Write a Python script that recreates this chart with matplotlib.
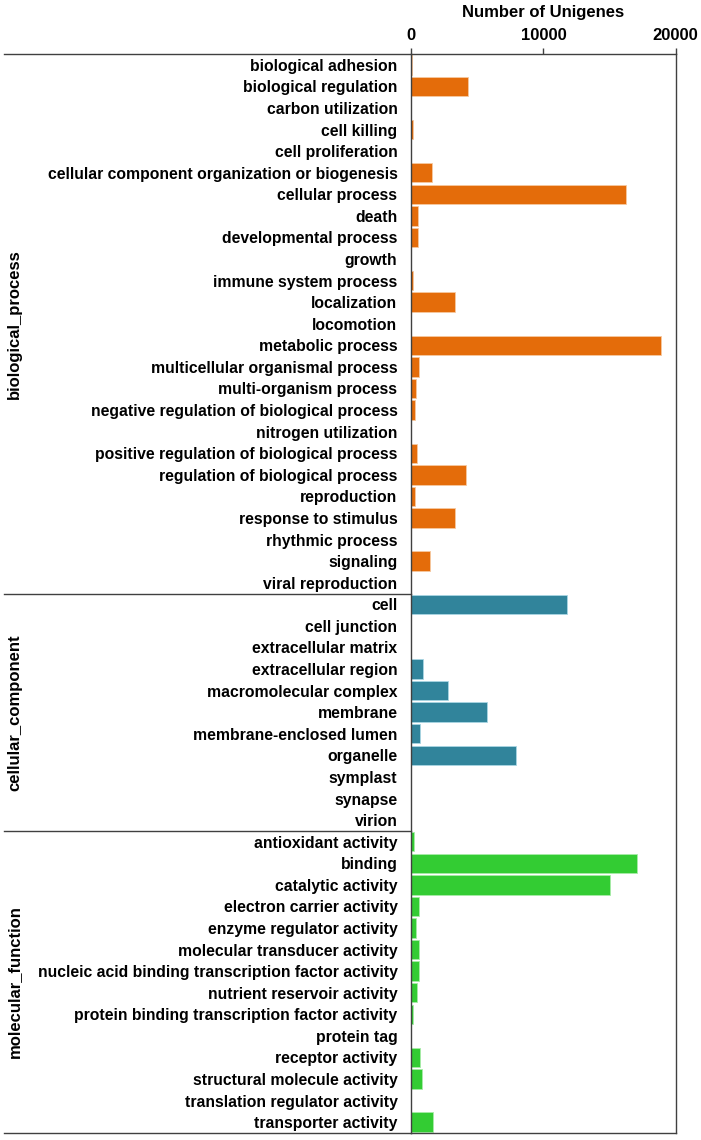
import matplotlib
matplotlib.use("Agg")
import matplotlib.pyplot as plt
import matplotlib.transforms as mtransforms

plt.rcParams['font.family'] = ['Liberation Sans', 'DejaVu Sans']
plt.rcParams['font.weight'] = 'bold'

# GO categories (top to bottom)
bp_terms = [
    "biological adhesion", "biological regulation", "carbon utilization",
    "cell killing", "cell proliferation",
    "cellular component organization or biogenesis", "cellular process",
    "death", "developmental process", "growth", "immune system process",
    "localization", "locomotion", "metabolic process",
    "multicellular organismal process", "multi-organism process",
    "negative regulation of biological process", "nitrogen utilization",
    "positive regulation of biological process",
    "regulation of biological process", "reproduction",
    "response to stimulus", "rhythmic process", "signaling",
    "viral reproduction",
]
bp_counts = [30, 4270, 5, 100, 10, 1590, 16230, 480, 530, 10, 130, 3300, 10,
             18900, 560, 330, 280, 5, 410, 4140, 300, 3330, 10, 1390, 5]

cc_terms = [
    "cell", "cell junction", "extracellular matrix", "extracellular region",
    "macromolecular complex", "membrane", "membrane-enclosed lumen",
    "organelle", "symplast", "synapse", "virion",
]
cc_counts = [11800, 5, 10, 860, 2800, 5730, 660, 7900, 5, 5, 5]

mf_terms = [
    "antioxidant activity", "binding", "catalytic activity",
    "electron carrier activity", "enzyme regulator activity",
    "molecular transducer activity",
    "nucleic acid binding transcription factor activity",
    "nutrient reservoir activity",
    "protein binding transcription factor activity", "protein tag",
    "receptor activity", "structural molecule activity",
    "translation regulator activity", "transporter activity",
]
mf_counts = [200, 17090, 15040, 580, 360, 560, 580, 430, 100, 0, 680, 790, 5, 1670]

group_names = ["biological_process", "cellular_component", "molecular_function"]
group_colors = ["#E46C0A", "#31849B", "#33CC33"]
group_edges = ["#F6C9A0", "#A9D6E3", "#A8ECA8"]

groups = [(bp_terms, bp_counts), (cc_terms, cc_counts), (mf_terms, mf_counts)]

fig = plt.figure(figsize=(7.01, 11.40), dpi=100)
ax = fig.add_axes([411.3 / 701, 1 - 1133 / 1140, 264.2 / 701, (1133 - 54) / 1140])

line_col = "#404040"
all_terms = []
pos = 0
bounds = []
for (terms, counts), color, edge in zip(groups, group_colors, group_edges):
    ys = list(range(pos, pos + len(terms)))
    ax.barh(ys, counts, height=0.9, color=color, edgecolor=edge, linewidth=0.6)
    all_terms += terms
    bounds.append((pos - 0.5, pos + len(terms) - 0.5))
    pos += len(terms)

ax.set_ylim(pos - 0.5, -0.5)
ax.set_xlim(0, 20000)
ax.set_yticks(range(pos))
ax.set_yticklabels(all_terms, fontsize=11.3, fontweight='bold')
ax.tick_params(axis='y', length=0, pad=10)

ax.xaxis.tick_top()
ax.xaxis.set_label_position('top')
ax.set_xticks([0, 10000, 20000])
ax.set_xticklabels(["0", "10000", "20000"], fontsize=12, fontweight='bold')
ax.tick_params(axis='x', direction='out', length=4, width=1, color=line_col, pad=4)
ax.set_xlabel("Number of Unigenes", fontsize=12, fontweight='bold', labelpad=8)

for sp in ax.spines.values():
    sp.set_color(line_col)
    sp.set_linewidth(1)

# separator lines extending into the label area
trans = mtransforms.blended_transform_factory(ax.transAxes, ax.transData)
x_left = (4 - 411.3) / 264.2
for i, (lo, hi) in enumerate(bounds):
    ax.plot([x_left, 0], [lo, lo], color=line_col, lw=1, transform=trans, clip_on=False)
    ax.text(x_left + 0.04, (lo + hi) / 2, group_names[i], rotation=90,
            ha='center', va='center', fontsize=12, fontweight='bold',
            transform=trans)
ax.plot([x_left, 0], [pos - 0.5, pos - 0.5], color=line_col, lw=1, transform=trans, clip_on=False)

fig.savefig("out.png", dpi=100)
